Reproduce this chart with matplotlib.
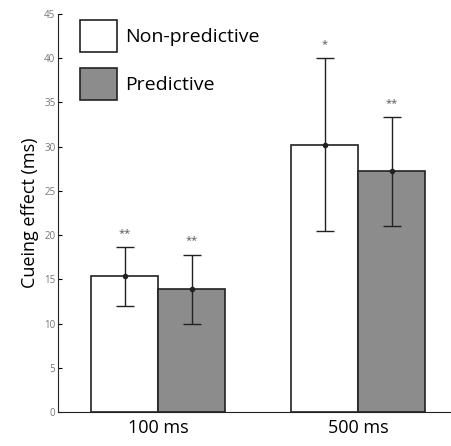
import numpy as np
from matplotlib import pyplot as plt
from matplotlib.patches import Patch

#   data
groups = ['100 ms', '500 ms']
series = ['Non-predictive', 'Predictive']
means_nonpred = [15.4, 30.2]
means_pred = [13.9, 27.2]
err_lo_nonpred = [12.0, 20.5]
err_hi_nonpred = [18.7, 40.0]
err_lo_pred = [10.0, 21.0]
err_hi_pred = [17.8, 33.3]
stars_nonpred = ['**', '*']
stars_pred = ['**', '**']

plt.rcParams['font.family'] = ['Open Sans', 'DejaVu Sans']

fig = plt.figure(figsize=(4.51, 4.46), dpi=100)
ax = fig.add_axes([0.129, 0.076, 0.869, 0.893])

x = np.arange(1, len(groups) + 1)
w = 0.335
colors = ['white', '#8c8c8c']

for i, (m, lo, hi, st) in enumerate([
        (means_nonpred, err_lo_nonpred, err_hi_nonpred, stars_nonpred),
        (means_pred, err_lo_pred, err_hi_pred, stars_pred)]):
    xs = x - w / 2 + i * w
    m = np.array(m)
    yerr = [m - np.array(lo), np.array(hi) - m]
    ax.bar(xs, m, w, color=colors[i], edgecolor='#222222', linewidth=1.2)
    ax.errorbar(xs, m, yerr=yerr, fmt='o', color='#222222', markersize=3,
                capsize=6.5, elinewidth=1, capthick=1)
    for xx, h, s in zip(xs, hi, st):
        ax.text(xx, h + 0.9, s, ha='center', va='bottom', fontsize=8, color='#555555')

ax.set_xlim(0.5, 2.46)
ax.set_ylim(0, 45)
ax.set_yticks(np.arange(0, 46, 5))
ax.set_xticks(x)
ax.set_xticklabels(groups, fontsize=13)
ax.tick_params(axis='y', direction='in', length=3, labelsize=7, labelcolor='#777777', pad=2)
ax.tick_params(axis='x', length=0, pad=5)
ax.set_ylabel('Cueing effect (ms)', fontsize=13, labelpad=4)
for s in ['top', 'right']:
    ax.spines[s].set_visible(False)
ax.spines['left'].set_color('#222222')
ax.spines['bottom'].set_color('#222222')

handles = [Patch(facecolor=c, edgecolor='#222222', linewidth=1.2) for c in colors]
ax.legend(handles, series, loc='upper left', bbox_to_anchor=(0.056, 0.985), frameon=False,
          fontsize=14, handlelength=1.9, handleheight=2.2, labelspacing=0.8,
          handletextpad=0.4, borderpad=0, borderaxespad=0)

plt.savefig('out.png', dpi=100)
